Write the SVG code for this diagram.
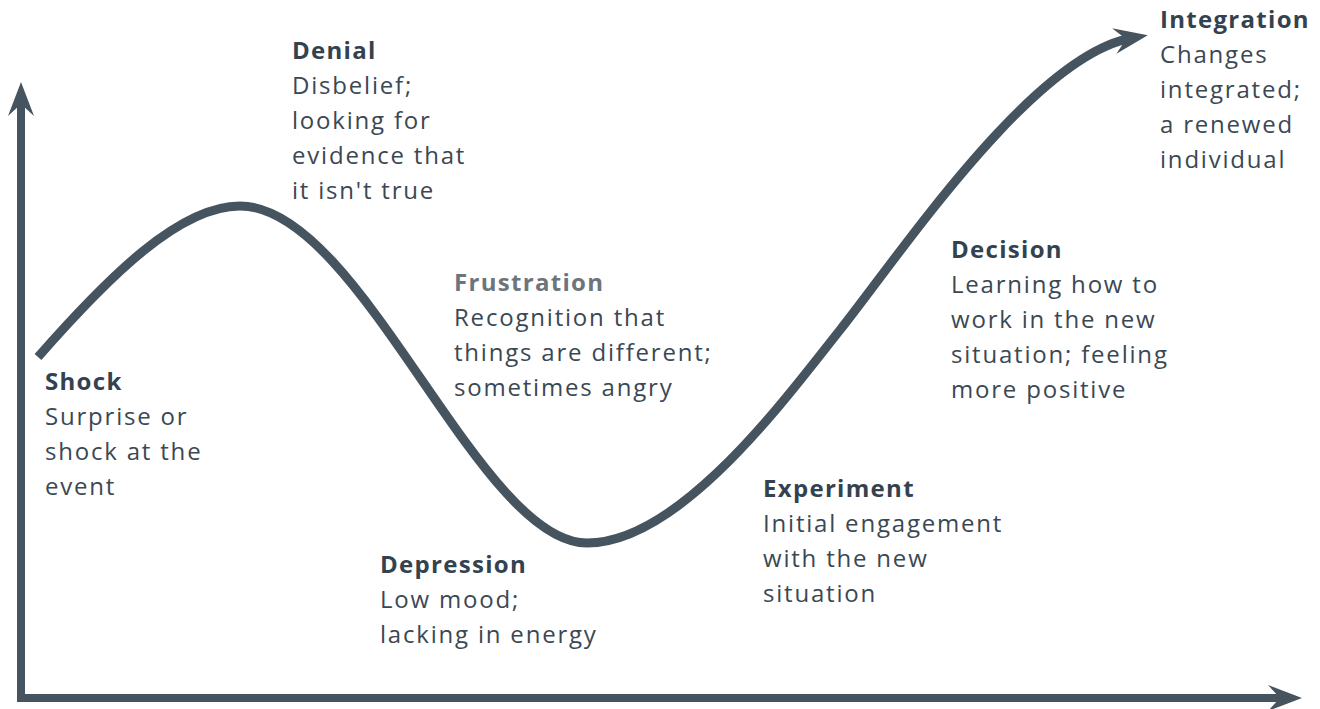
<svg xmlns="http://www.w3.org/2000/svg" width="1320" height="709" viewBox="0 0 1320 709">
<style>
  .title { font-family: "Open Sans", "Noto Sans", "Liberation Sans", sans-serif; font-size: 24px; font-weight: 700; fill: #34424f; letter-spacing: 1.3px; }
  .title.light { fill: #6d757c; }
  .body { font-family: "Open Sans", "Noto Sans", "Liberation Sans", sans-serif; font-size: 24px; font-weight: 400; fill: #3b4854; letter-spacing: 1.8px; }
  .line { fill: none; stroke: #45545f; stroke-width: 8; stroke-linejoin: miter; }
  .curve { stroke-width: 9; }
</style>
<defs>
  <marker id="arrow" markerUnits="userSpaceOnUse" viewBox="-20 -15 40 30" refX="0" refY="0" markerWidth="40" markerHeight="30" orient="auto-start-reverse" overflow="visible">
    <path d="M16,0 L-18,-13 L-6,0 L-18,13 Z" fill="#45545f"/>
  </marker>
</defs>
<rect width="1320" height="709" fill="#ffffff"/>
<g id="connectors">
  <path id="axes" class="line" d="M21,98 V698 H1286" marker-start="url(#arrow)" marker-end="url(#arrow)"/>
  <path id="curve" class="line curve" d="M38,357 C110,275 180,206 240,206 C361,206 478,543 587,543 C680,543 785,399 840,330 C899,256 1033,55 1132,38" marker-end="url(#arrow)"/>
</g>
<g id="shock">
  <text class="title" x="45" y="390">Shock</text>
  <text class="body" x="45" y="425">Surprise or</text>
  <text class="body" x="45" y="460">shock at the</text>
  <text class="body" x="45" y="495">event</text>
</g>
<g id="denial">
  <text class="title" x="292" y="59">Denial</text>
  <text class="body" x="292" y="94">Disbelief;</text>
  <text class="body" x="292" y="129">looking for</text>
  <text class="body" x="292" y="164">evidence that</text>
  <text class="body" x="292" y="199">it isn't true</text>
</g>
<g id="frustration">
  <text class="title light" x="454" y="291">Frustration</text>
  <text class="body" x="454" y="326">Recognition that</text>
  <text class="body" x="454" y="361">things are different;</text>
  <text class="body" x="454" y="396">sometimes angry</text>
</g>
<g id="depression">
  <text class="title" x="380" y="573">Depression</text>
  <text class="body" x="380" y="608">Low mood;</text>
  <text class="body" x="380" y="643">lacking in energy</text>
</g>
<g id="experiment">
  <text class="title" x="763" y="497">Experiment</text>
  <text class="body" x="763" y="532">Initial engagement</text>
  <text class="body" x="763" y="567">with the new</text>
  <text class="body" x="763" y="602">situation</text>
</g>
<g id="decision">
  <text class="title" x="951" y="258">Decision</text>
  <text class="body" x="951" y="293">Learning how to</text>
  <text class="body" x="951" y="328">work in the new</text>
  <text class="body" x="951" y="363">situation; feeling</text>
  <text class="body" x="951" y="398">more positive</text>
</g>
<g id="integration">
  <text class="title" x="1160" y="28">Integration</text>
  <text class="body" x="1160" y="63">Changes</text>
  <text class="body" x="1160" y="98">integrated;</text>
  <text class="body" x="1160" y="133">a renewed</text>
  <text class="body" x="1160" y="168">individual</text>
</g>
</svg>
